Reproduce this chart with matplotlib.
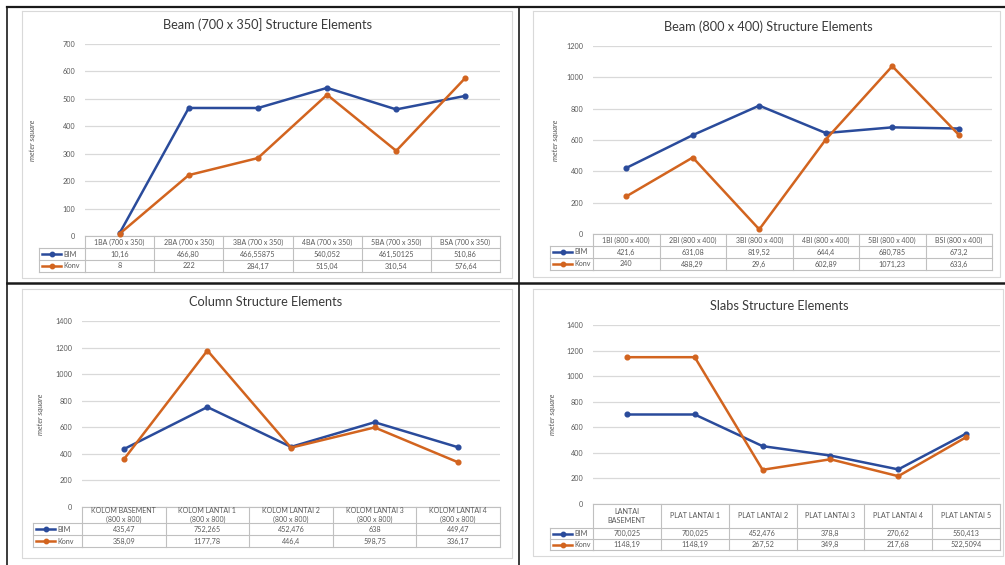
import matplotlib
matplotlib.use("Agg")
import matplotlib.pyplot as plt
from matplotlib.lines import Line2D
from matplotlib.transforms import blended_transform_factory

plt.rcParams['font.family'] = ['Lato', 'DejaVu Sans']

W, H = 1005, 565
BLUE = '#2a4b9b'
ORANGE = '#d2641f'
GRID = '#d9d9d9'
TXT = '#595959'

# ---- data ----
beam1_title = "Beam (700 x 350] Structure Elements"
beam1_cats = ["1BA (700 x 350)", "2BA (700 x 350)", "3BA (700 x 350)",
              "4BA (700 x 350)", "5BA (700 x 350)", "BSA (700 x 350)"]
beam1_bim = ["10,16", "466,80", "466,55875", "540,052", "461,50125", "510,86"]
beam1_konv = ["8", "222", "284,17", "515,04", "310,54", "576,64"]

beam2_title = "Beam (800 x 400) Structure Elements"
beam2_cats = ["1BI (800 x 400)", "2BI (800 x 400)", "3BI (800 x 400)",
              "4BI (800 x 400)", "5BI (800 x 400)", "BSI (800 x 400)"]
beam2_bim = ["421,6", "631,08", "819,52", "644,4", "680,785", "673,2"]
beam2_konv = ["240", "488,29", "29,6", "602,89", "1071,23", "633,6"]

col_title = "Column Structure Elements"
col_cats = ["KOLOM BASEMENT\n(800 x 800)", "KOLOM LANTAI 1\n(800 x 800)",
            "KOLOM LANTAI 2\n(800 x 800)", "KOLOM LANTAI 3\n(800 x 800)",
            "KOLOM LANTAI 4\n(800 x 800)"]
col_bim = ["435,47", "752,265", "452,476", "638", "449,47"]
col_konv = ["358,09", "1177,78", "446,4", "598,75", "336,17"]

slab_title = "Slabs Structure Elements"
slab_cats = ["LANTAI\nBASEMENT", "PLAT LANTAI 1", "PLAT LANTAI 2",
             "PLAT LANTAI 3", "PLAT LANTAI 4", "PLAT LANTAI 5"]
slab_bim = ["700,025", "700,025", "452,476", "378,8", "270,62", "550,413"]
slab_konv = ["1148,19", "1148,19", "267,52", "349,8", "217,68", "522,5094"]

series_names = ["BIM", "Konv"]


def num(s):
    return float(s.replace(',', '.'))


fig = plt.figure(figsize=(W / 100, H / 100), dpi=100)
fig.patch.set_facecolor('white')


def fx(px):
    return px / W


def fy(py):
    return 1 - py / H


def fig_line(xs, ys, **kw):
    fig.add_artist(Line2D([fx(x) for x in xs], [fy(y) for y in ys],
                          transform=fig.transFigure, **kw))


def panel(title, cats, bim, konv, ymax, ystep, x0, x1, ytop, y0,
          hdr_bot, row_h, leg_x, ylab_x, title_x, title_y, frame,
          cat_fs=5.0):
    # chart area frame
    fx0, fy0, fx1, fy1 = frame
    fig_line([fx0, fx1, fx1, fx0, fx0], [fy0, fy0, fy1, fy1, fy0],
             color='#d9d9d9', lw=0.8)
    ax = fig.add_axes([fx(x0), fy(y0), fx(x1) - fx(x0), fy(ytop) - fy(y0)])
    n = len(cats)
    xs = list(range(n))
    ax.set_xlim(-0.5, n - 0.5)
    ax.set_ylim(0, ymax)
    ax.set_yticks(range(0, ymax + 1, ystep))
    ax.set_xticks([])
    for s in ax.spines.values():
        s.set_visible(False)
    ax.grid(axis='y', color=GRID, lw=0.9)
    ax.set_axisbelow(True)
    ax.tick_params(axis='y', length=0, labelsize=5.2, labelcolor=TXT, pad=7)
    ax.plot(xs, [num(v) for v in bim], color=BLUE, lw=1.8, marker='o',
            ms=3.4, zorder=3, clip_on=False)
    ax.plot(xs, [num(v) for v in konv], color=ORANGE, lw=1.8, marker='o',
            ms=3.4, zorder=4, clip_on=False)
    fig.text(fx(title_x), fy(title_y), title, ha='center',
             va='center', fontsize=9.2, color='#3a3a3a')
    fig.text(fx(ylab_x), fy((ytop + y0) / 2), "meter square", rotation=90,
             ha='center', va='center', fontsize=5.5, style='italic',
             color=TXT)

    # data table below the axis
    tr = blended_transform_factory(ax.transData, fig.transFigure)
    r1 = hdr_bot + row_h
    r2 = r1 + row_h
    lc = '#c0c0c0'
    for yy in [y0, hdr_bot, r1, r2]:
        ax.add_line(Line2D([-0.5, n - 0.5], [fy(yy), fy(yy)], transform=tr,
                           color=lc, lw=0.8, clip_on=False))
    for i in range(n + 1):
        ax.add_line(Line2D([i - 0.5, i - 0.5], [fy(y0), fy(r2)], transform=tr,
                           color=lc, lw=0.8, clip_on=False))
    for yy in [hdr_bot, r1, r2]:
        fig_line([leg_x, x0], [yy, yy], color=lc, lw=0.8)
    fig_line([leg_x, leg_x], [hdr_bot, r2], color=lc, lw=0.8)
    for i, c in enumerate(cats):
        ax.text(i, fy((y0 + hdr_bot) / 2), c, transform=tr, ha='center',
                va='center', fontsize=cat_fs, color=TXT, linespacing=1.3,
                clip_on=False)
        ax.text(i, fy((hdr_bot + r1) / 2), bim[i], transform=tr,
                ha='center', va='center', fontsize=5.2, color=TXT)
        ax.text(i, fy((r1 + r2) / 2), konv[i], transform=tr,
                ha='center', va='center', fontsize=5.2, color=TXT)
    for k, (name, col) in enumerate(zip(series_names, [BLUE, ORANGE])):
        yy = (hdr_bot + r1) / 2 + k * row_h
        fig_line([leg_x + 3, leg_x + 22], [yy, yy], color=col, lw=1.8)
        fig_line([leg_x + 12.5], [yy], color=col, marker='o', ms=3.2)
        fig.text(fx(leg_x + 24), fy(yy), name, ha='left', va='center',
                 fontsize=5.2, color=TXT)
    return ax


panel(beam1_title, beam1_cats, beam1_bim, beam1_konv, 700, 100,
      85, 500, 44, 236, 248, 12, 39, 32, 267, 25, (22, 11, 512, 278))
panel(beam2_title, beam2_cats, beam2_bim, beam2_konv, 1200, 200,
      593, 992, 46, 234, 246, 12, 550, 555, 768, 27, (533, 11, 1000, 277))
panel(col_title, col_cats, col_bim, col_konv, 1400, 200,
      82, 500, 321, 507, 523, 12, 33, 40, 266, 302, (22, 289, 512, 558))
panel(slab_title, slab_cats, slab_bim, slab_konv, 1400, 200,
      593, 1000, 325, 504, 528, 11, 550, 553, 779, 306, (533, 289, 1003, 556),
      cat_fs=5.2)

# outer panel dividers
dk = '#1a1a1a'
fig_line([7, 1005], [7, 7], color=dk, lw=1.6)
fig_line([7, 1005], [283, 283], color=dk, lw=1.8)
fig_line([7, 7], [7, 565], color=dk, lw=1.2)
fig_line([519, 519], [7, 565], color=dk, lw=1.2)

fig.savefig("out.png", dpi=100, facecolor='white')
